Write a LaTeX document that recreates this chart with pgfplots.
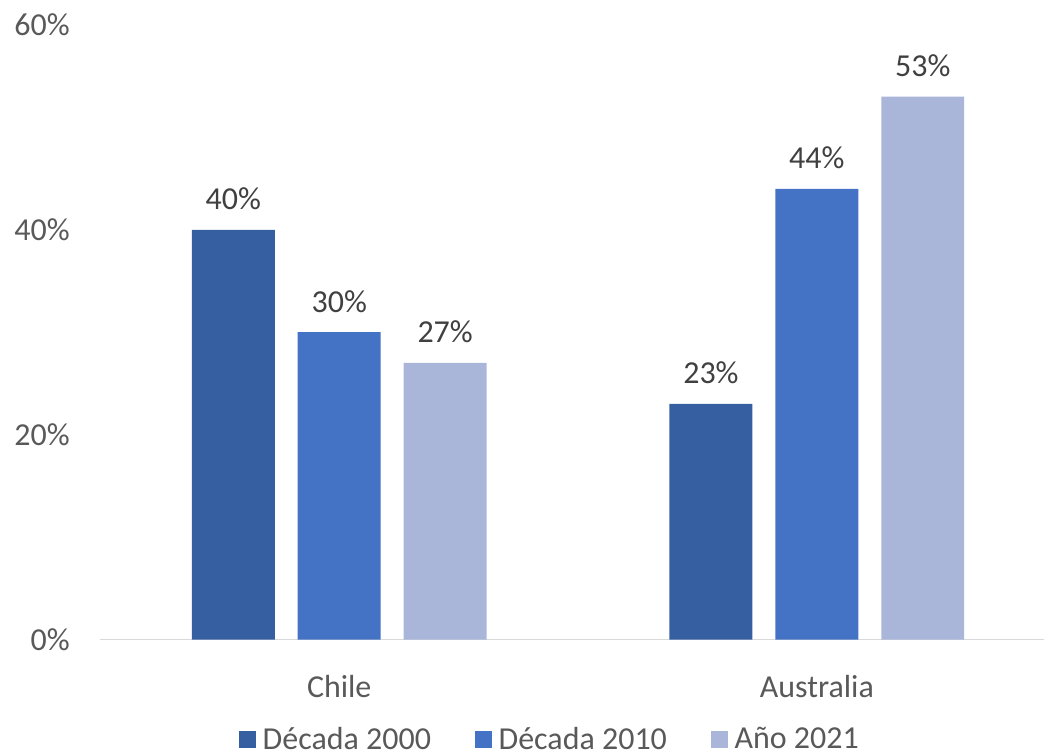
\documentclass[border=0pt]{standalone}
\usepackage{pgfplots}
\pgfplotsset{compat=1.18}
\usepackage{fontspec}
\setmainfont{Carlito}
\definecolor{cA}{HTML}{365FA2}
\definecolor{cB}{HTML}{4472C4}
\definecolor{cC}{HTML}{A9B6DA}
\definecolor{tick}{HTML}{595959}
\definecolor{lab}{HTML}{404040}
\definecolor{axl}{HTML}{D9D9D9}
\begin{document}
\begin{tikzpicture}[font=\fontsize{24pt}{28pt}\selectfont]
\begin{axis}[
  at={(0,0)}, anchor=south west,
  scale only axis,
  width=708.75pt, height=461.25pt,
  xmin=-0.501, xmax=1.476,
  ymin=0, ymax=60,
  enlargelimits=false,
  clip=false,
  axis x line*=bottom,
  axis y line*=left,
  x axis line style={draw=axl, line width=1.2pt},
  y axis line style={draw=none},
  xtick={0,1},
  xticklabels={Chile,Australia},
  ytick={0,20,40,60},
  yticklabels={0\%,20\%,40\%,60\%},
  tick style={draw=none},
  xticklabel style={text=tick, anchor=base, inner sep=0pt, yshift=-39pt},
  yticklabel style={text=tick, anchor=east, inner sep=0pt, xshift=-22.5pt},
  ybar,
  bar width=62.25pt,
  nodes near coords={\pgfmathprintnumber[assume math mode=true]{\pgfplotspointmeta}\%},
  every node near coord/.append style={text=lab, anchor=base, inner sep=0pt, yshift=15pt},
  legend columns=3,
  legend style={draw=none, fill=none, at={(axis description cs:0.479,-0.162)}, anchor=center,
    text=tick, inner sep=0pt,
    /tikz/every odd column/.append style={column sep=0pt},
    /tikz/every even column/.append style={column sep=28pt},
    nodes={inner xsep=5pt, inner ysep=0pt}},
  legend image code/.code={\fill[#1] (0pt,-6.4pt) rectangle (12.75pt,6.4pt);},
]
\addplot[fill=cA, draw=none, bar shift=-79.5pt] coordinates {(0,40) (1,23)};
\addplot[fill=cB, draw=none, bar shift=0pt] coordinates {(0,30) (1,44)};
\addplot[fill=cC, draw=none, bar shift=79.5pt] coordinates {(0,27) (1,53)};
\legend{Década 2000, Década 2010, Año 2021}
\end{axis}
\path[use as bounding box] (-75pt,-87pt) rectangle (708.75pt,480pt);
\end{tikzpicture}
\end{document}
